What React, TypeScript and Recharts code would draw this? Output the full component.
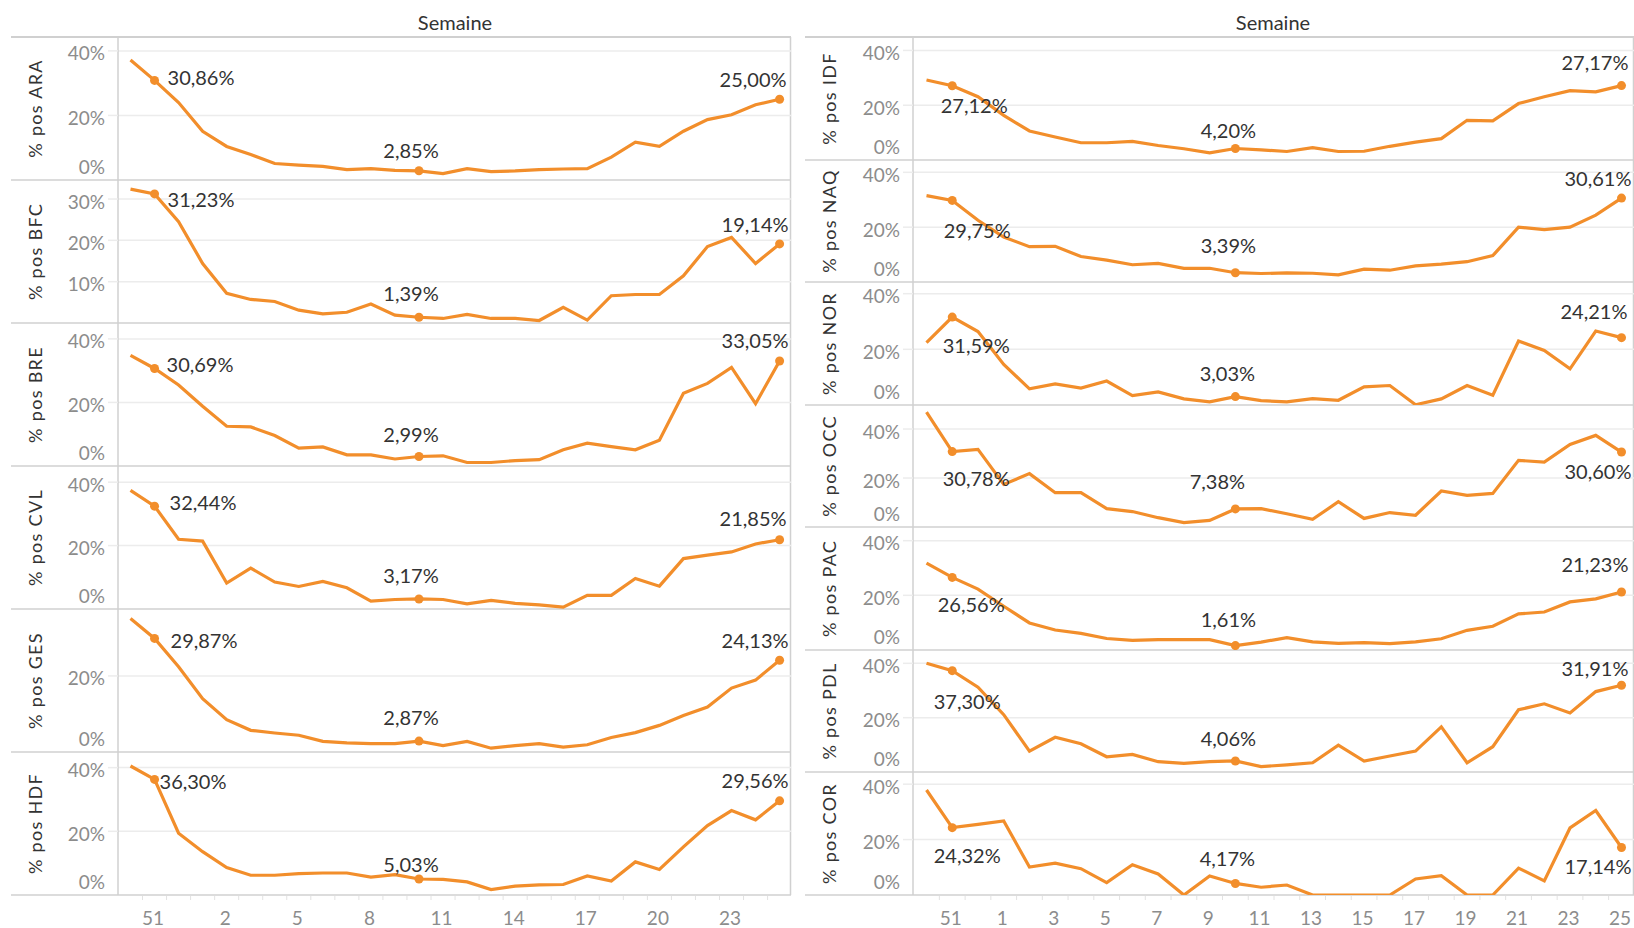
import React from 'react';
import { LineChart, Line, XAxis, YAxis, CartesianGrid } from 'recharts';

// weeks 50 .. 25 (2020 -> 2021)
const WEEKS = ['50', '51', '52', '1', '2', '3', '4', '5', '6', '7', '8', '9', '10', '11', '12',
  '13', '14', '15', '16', '17', '18', '19', '20', '21', '22', '23', '24', '25'];

// % of positive tests, per region
const ARA = [37.2, 30.86, 24.0, 15.1, 10.4, 7.9, 5.1, 4.6, 4.2, 3.2, 3.5, 3.0, 2.85, 2.0, 3.5, 2.6, 2.8, 3.2, 3.4, 3.5, 7.1, 11.7, 10.4, 15.1, 18.7, 20.2, 23.3, 25.0];
const BFC = [32.4, 31.23, 24.5, 14.4, 7.2, 5.7, 5.2, 3.1, 2.2, 2.6, 4.6, 1.9, 1.39, 1.1, 2.1, 1.1, 1.1, 0.6, 3.8, 0.7, 6.6, 6.9, 6.9, 11.4, 18.5, 20.7, 14.4, 19.14];
const BRE = [34.8, 30.69, 25.5, 18.8, 12.5, 12.3, 9.6, 5.6, 6.0, 3.5, 3.5, 2.2, 2.99, 3.2, 1.1, 1.1, 1.7, 2.0, 5.1, 7.2, 6.1, 5.1, 8.1, 22.9, 26.0, 31.0, 19.6, 33.05];
const CVL = [37.4, 32.44, 22.0, 21.4, 8.2, 12.9, 8.5, 7.1, 8.7, 6.7, 2.5, 3.0, 3.17, 3.0, 1.6, 2.7, 1.8, 1.3, 0.6, 4.3, 4.3, 9.6, 7.2, 15.9, 17.0, 18.0, 20.5, 21.85];
const GES = [35.1, 29.87, 22.4, 14.0, 8.5, 5.7, 5.0, 4.4, 2.8, 2.4, 2.2, 2.2, 2.87, 1.7, 2.8, 1.0, 1.7, 2.2, 1.3, 1.9, 3.8, 5.1, 7.0, 9.6, 11.8, 16.8, 18.9, 24.13];
const HDF = [40.5, 36.3, 19.4, 13.6, 8.6, 6.2, 6.2, 6.7, 6.9, 6.9, 5.6, 6.4, 5.03, 4.9, 4.1, 1.7, 2.8, 3.2, 3.3, 6.0, 4.4, 10.4, 8.0, 15.1, 21.8, 26.5, 23.6, 29.56];
const IDF = [29.2, 27.12, 23.1, 16.3, 10.6, 8.4, 6.3, 6.3, 6.8, 5.3, 4.1, 2.6, 4.2, 3.7, 3.1, 4.5, 3.1, 3.2, 5.0, 6.5, 7.8, 14.5, 14.3, 20.6, 23.1, 25.3, 24.9, 27.17];
const NAQ = [31.5, 29.75, 22.5, 16.4, 12.9, 13.0, 9.3, 8.0, 6.3, 6.8, 5.0, 5.0, 3.39, 3.1, 3.3, 3.2, 2.6, 4.7, 4.3, 5.9, 6.5, 7.4, 9.6, 20.0, 19.1, 20.0, 24.4, 30.61];
const NOR = [22.4, 31.59, 26.4, 14.6, 5.8, 7.6, 6.1, 8.6, 3.4, 4.7, 2.2, 1.1, 3.03, 1.6, 1.1, 2.3, 1.7, 6.5, 7.0, 0.1, 2.2, 7.0, 3.5, 23.0, 19.6, 13.0, 26.6, 24.21];
const OCC = [46.9, 30.78, 31.7, 17.4, 21.8, 14.0, 14.0, 7.5, 6.3, 3.8, 1.8, 2.7, 7.38, 7.5, 5.4, 3.1, 10.3, 3.5, 5.9, 4.8, 14.7, 12.9, 13.7, 27.2, 26.5, 33.7, 37.4, 30.6];
const PAC = [31.8, 26.56, 22.3, 16.0, 9.9, 7.3, 6.1, 4.2, 3.5, 3.8, 3.8, 3.8, 1.61, 2.9, 4.5, 3.0, 2.4, 2.7, 2.3, 3.0, 4.1, 7.2, 8.7, 13.2, 13.9, 17.6, 18.7, 21.23];
const PDL = [40.0, 37.3, 31.2, 21.1, 7.7, 12.8, 10.4, 5.6, 6.5, 3.8, 3.2, 3.8, 4.06, 2.0, 2.6, 3.4, 9.9, 4.0, 5.9, 7.7, 16.6, 3.4, 9.3, 22.9, 25.1, 21.7, 29.6, 31.91];
const COR = [37.9, 24.32, 25.5, 26.7, 10.1, 11.5, 9.5, 4.5, 10.9, 7.6, 0, 6.9, 4.17, 2.8, 3.6, 0, 0, 0, 0, 5.8, 7.0, 0, 0, 9.7, 5.1, 24.2, 30.5, 17.14];

const LEFT_REGIONS = ['ARA', 'BFC', 'BRE', 'CVL', 'GES', 'HDF'];
const RIGHT_REGIONS = ['IDF', 'NAQ', 'NOR', 'OCC', 'PAC', 'PDL', 'COR'];
const SERIES: Record<string, number[]> = { ARA, BFC, BRE, CVL, GES, HDF, IDF, NAQ, NOR, OCC, PAC, PDL, COR };

// axis tick values (percent)
const Y_TICKS: Record<string, number[]> = { BFC: [10, 20, 30], GES: [0, 20] };
const DEFAULT_TICKS = [0, 20, 40];
// week indexes that get a tick label
const LEFT_X_TICKS = [1, 4, 7, 10, 13, 16, 19, 22, 25];
const RIGHT_X_TICKS = [1, 3, 5, 7, 9, 11, 13, 15, 17, 19, 21, 23, 25, 27];
// labelled points: week 51, week 10, last week
const HIGHLIGHT = [1, 12, 27];

// ---- layout / styling ----
const FONT = "Lato, 'Open Sans', 'Noto Sans', sans-serif";
const ORANGE = '#F28E2B';
const BORDER = '#d0d0d0';
const GRID = '#ececec';
const TICK_COLOR = '#8c8c8c';
const TOP = 37;
const BOTTOM = 895;

const Y_MAX: Record<string, number> = {
  ARA: 44.3, BFC: 34.6, BRE: 45.0, CVL: 45.1, GES: 37.6, HDF: 44.9,
  IDF: 44.9, NAQ: 44.5, NOR: 44.2, OCC: 49.8, PAC: 45.0, PDL: 44.9, COR: 44.4,
};

type LabelPos = [number, number, 'start' | 'middle' | 'end'];
const LABEL_POS: Record<string, LabelPos[]> = {
  ARA: [[13, -3, 'start'], [-8, -20, 'middle'], [7, -20, 'end']],
  BFC: [[13, 6, 'start'], [-8, -23, 'middle'], [9, -19, 'end']],
  BRE: [[12, -4, 'start'], [-8, -22, 'middle'], [9, -20, 'end']],
  CVL: [[15, -3, 'start'], [-8, -23, 'middle'], [7, -21, 'end']],
  GES: [[16, 2, 'start'], [-8, -23, 'middle'], [9, -19, 'end']],
  HDF: [[5, 2, 'start'], [-8, -14, 'middle'], [9, -20, 'end']],
  IDF: [[22, 20, 'middle'], [-7, -18, 'middle'], [7, -23, 'end']],
  NAQ: [[25, 30, 'middle'], [-7, -27, 'middle'], [10, -19, 'end']],
  NOR: [[24, 29, 'middle'], [-8, -23, 'middle'], [6, -26, 'end']],
  OCC: [[24, 27, 'middle'], [-18, -27, 'middle'], [10, 20, 'end']],
  PAC: [[19, 27, 'middle'], [-7, -26, 'middle'], [7, -27, 'end']],
  PDL: [[15, 31, 'middle'], [-7, -22, 'middle'], [7, -16, 'end']],
  COR: [[15, 28, 'middle'], [-8, -25, 'middle'], [10, 19, 'end']],
};

const COLUMNS = [
  { regions: LEFT_REGIONS, left: 11, axisW: 107, width: 780, padL: 12.5, padR: 11.4, xTicks: LEFT_X_TICKS, center: 455, titleX: 42 },
  { regions: RIGHT_REGIONS, left: 805, axisW: 108, width: 829, padL: 13.5, padR: 12.5, xTicks: RIGHT_X_TICKS, center: 1273, titleX: 836 },
];

const MINOR_TICKS = WEEKS.slice(1).map((_, i) => i + 0.5);
const fmt = (v: number) => v.toFixed(2).replace('.', ',') + '%';

function rowTops(n: number) {
  const out: number[] = [];
  for (let k = 0; k <= n; k++) out.push(Math.round(TOP + (k * (BOTTOM - TOP)) / n));
  return out;
}

function Panel(props: any) {
  const { region, top, height, col, isLast } = props;
  const values = SERIES[region];
  const ticks = Y_TICKS[region] || DEFAULT_TICKS;
  const labels = LABEL_POS[region];
  const data = WEEKS.map((w, i) => ({ i, week: w, v: values[i] }));
  const axisH = isLast ? 33 : 0;

  const yTick = (p: any) => {
    const v = p.payload.value;
    const ty = v === 0 ? height - 6.5 : p.y + 9.5;
    return (
      <g>
        {v !== 0 && <line x1={col.axisW - 10} x2={col.axisW} y1={p.y} y2={p.y} stroke={GRID} strokeWidth={1.5} />}
        <text x={col.axisW - 13} y={ty} textAnchor="end" fontSize={19} fontFamily={FONT} fill={TICK_COLOR}>
          {v}%
        </text>
      </g>
    );
  };

  const xTick = (p: any) => {
    const v = p.payload.value;
    if (Number.isInteger(v)) {
      return (
        <text x={p.x - 1.5} y={height + 29.5} textAnchor="middle" fontSize={19} fontFamily={FONT} fill={TICK_COLOR}>
          {WEEKS[v]}
        </text>
      );
    }
    return <line x1={p.x} x2={p.x} y1={height + 1} y2={height + 5} stroke="#e2e2e2" strokeWidth={1} />;
  };

  const renderDot = (p: any) => {
    const { cx, cy, index } = p;
    const k = HIGHLIGHT.indexOf(index);
    if (k < 0) return <g key={`d${index}`} />;
    const [dx, dy, anchor] = labels[k];
    return (
      <g key={`d${index}`}>
        <circle cx={cx} cy={cy} r={4.5} fill={ORANGE} />
        <text x={cx + dx} y={cy + dy + 7.2} textAnchor={anchor} fontSize={20} fontFamily={FONT} fill="#333">
          {fmt(values[index])}
        </text>
      </g>
    );
  };

  return (
    <div style={{ position: 'absolute', left: col.left, top, width: col.width, height: height + axisH }}>
      <LineChart width={col.width} height={height + axisH} data={data} margin={{ top: 0, right: 0, bottom: 0, left: 0 }}>
        <CartesianGrid vertical={false} horizontalValues={ticks.filter((t) => t > 0)} stroke={GRID} strokeWidth={1.5} />
        <XAxis
          type="number"
          dataKey="i"
          domain={[0, 27]}
          padding={{ left: col.padL, right: col.padR }}
          hide={!isLast}
          height={33}
          ticks={[...col.xTicks, ...MINOR_TICKS]}
          interval={0}
          axisLine={false}
          tickLine={false}
          tick={xTick}
        />
        <YAxis
          type="number"
          domain={[0, Y_MAX[region]]}
          allowDataOverflow
          ticks={ticks}
          interval={0}
          width={col.axisW}
          axisLine={{ stroke: BORDER, strokeWidth: 1.5 }}
          tickLine={false}
          tick={yTick}
        />
        <Line
          type="linear"
          dataKey="v"
          stroke={ORANGE}
          strokeWidth={3.2}
          dot={renderDot}
          activeDot={false}
          isAnimationActive={false}
        />
      </LineChart>
    </div>
  );
}

export default function App() {
  return (
    <div style={{ position: 'absolute', left: 0, top: 0, width: 1634, height: 928, background: '#fff', fontFamily: FONT }}>
      <style>{'.recharts-surface{overflow:visible}'}</style>
      {/* frame: headers, row borders, titles */}
      <svg width={1634} height={928} style={{ position: 'absolute', left: 0, top: 0 }}>
        {COLUMNS.map((col, c) => {
          const tops = rowTops(col.regions.length);
          const right = col.left + col.width;
          return (
            <g key={c}>
              <text x={col.center} y={30} textAnchor="middle" fontSize={20} fontFamily={FONT} fill="#333">
                Semaine
              </text>
              {tops.map((t, k) => (
                <line key={k} x1={col.left} x2={right} y1={t} y2={t} stroke={BORDER} strokeWidth={k === 0 ? 2 : 1.5} />
              ))}
              <line x1={right - 0.5} x2={right - 0.5} y1={TOP} y2={BOTTOM} stroke={BORDER} strokeWidth={1.5} />
              {col.regions.map((r, k) => (
                <text
                  key={r}
                  transform={`translate(${col.titleX}, ${(tops[k] + tops[k + 1]) / 2}) rotate(-90)`}
                  textAnchor="middle"
                  fontSize={18}
                  letterSpacing={1.3}
                  fontFamily={FONT}
                  fill="#333"
                >
                  % pos {r}
                </text>
              ))}
            </g>
          );
        })}
      </svg>
      {COLUMNS.map((col) => {
        const tops = rowTops(col.regions.length);
        return col.regions.map((r, k) => (
          <Panel
            key={r}
            region={r}
            col={col}
            top={tops[k]}
            height={tops[k + 1] - tops[k]}
            isLast={k === col.regions.length - 1}
          />
        ));
      })}
    </div>
  );
}
